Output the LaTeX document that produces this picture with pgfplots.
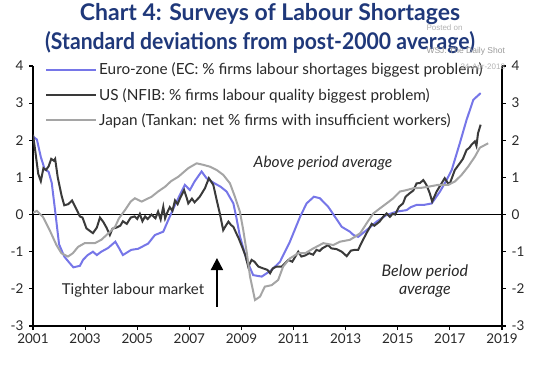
\documentclass[border=0pt]{standalone}
\usepackage{fontspec}
\setmainfont{Lato}
\newfontfamily\wm{Liberation Sans}
\usepackage{pgfplots}
\pgfplotsset{compat=1.18}
\usetikzlibrary{arrows.meta}
\definecolor{titleblue}{RGB}{31,56,122}
\definecolor{euro}{RGB}{118,118,232}
\definecolor{usc}{RGB}{58,58,58}
\definecolor{jpc}{RGB}{165,165,165}
\definecolor{txt}{RGB}{40,40,40}

\begin{document}
\begin{tikzpicture}[x=1pt,y=1pt]
\useasboundingbox (0,0) rectangle (539,365);
\node[anchor=base, inner sep=0pt, font=\bfseries\fontsize{23}{25}\selectfont, text=titleblue] at (270,344) {Chart 4: Surveys of Labour Shortages};
\node[anchor=base, inner sep=0pt, font=\bfseries\fontsize{23}{25}\selectfont, text=titleblue] at (260,315) {\scalebox{0.92}[1]{(Standard deviations from post-2000 average)}};
\begin{axis}[at={(33pt,39pt)}, anchor=south west, scale only axis,
  width=469pt, height=260pt,
  xmin=2001, xmax=2019, ymin=-3, ymax=4,
  axis x line*=bottom, axis y line*=left,
  axis line style={line width=1.6pt, -},
  xtick={2001,2003,2005,2007,2009,2011,2013,2015,2017,2019},
  xticklabels={2001,2003,2005,2007,2009,2011,2013,2015,2017,2019},
  ytick={-3,-2,-1,0,1,2,3,4},
  yticklabels={-3,-2,-1,0,1,2,3,4},
  tick align=outside, major tick length=4pt,
  tick style={line width=1.2pt, black},
  tick label style={font=\fontsize{13.5}{15}\selectfont, text=txt},
  yticklabel style={xshift=-2pt},
  legend image code/.code={\draw[#1] (0pt,0pt) -- (50pt,0pt);},
  legend style={at={(0.0256,1.02)}, anchor=north west, draw=none, fill=none,
    font=\fontsize{15.3}{17}\selectfont, text=txt, inner sep=0pt, row sep=8pt,
    cells={anchor=west}},
]
\addplot[black, line width=1.6pt, forget plot] coordinates {(2001,0)(2019,0)};
\addplot[euro, line width=2pt] coordinates {
(2001.0,2.10)(2001.15,2.02)(2001.3,1.55)(2001.45,1.22)(2001.6,1.15)(2001.72,0.85)(2001.85,0.10)(2002.0,-0.80)(2002.2,-1.13)(2002.4,-1.30)(2002.55,-1.42)(2002.8,-1.38)(2002.92,-1.22)(2003.1,-1.09)(2003.3,-1.00)(2003.45,-1.09)(2003.62,-1.00)(2003.88,-0.90)(2004.16,-0.73)(2004.3,-0.90)(2004.45,-1.09)(2004.77,-0.95)(2005.04,-0.92)(2005.42,-0.78)(2005.68,-0.55)(2006.0,-0.46)(2006.19,-0.15)(2006.45,0.26)(2006.7,0.62)(2006.83,0.80)(2007.02,0.66)(2007.2,0.89)(2007.47,1.16)(2007.66,0.98)(2007.92,0.86)(2008.2,0.75)(2008.43,0.62)(2008.69,0.30)(2008.8,-0.06)(2008.94,-0.58)(2009.2,-1.22)(2009.45,-1.63)(2009.78,-1.67)(2010.16,-1.49)(2010.48,-1.27)(2010.86,-0.73)(2011.25,-0.06)(2011.5,0.30)(2011.78,0.48)(2012.01,0.44)(2012.33,0.21)(2012.59,-0.06)(2012.85,-0.33)(2013.16,-0.46)(2013.3,-0.55)(2013.48,-0.60)(2013.8,-0.42)(2014.19,-0.19)(2014.57,-0.01)(2014.96,0.08)(2015.34,0.12)(2015.5,0.20)(2015.72,0.26)(2016.0,0.26)(2016.3,0.30)(2016.62,0.62)(2016.85,0.90)(2017.07,1.20)(2017.38,1.92)(2017.64,2.55)(2017.9,3.09)(2018.18,3.27)
};
\addlegendentry{Euro-zone (EC: \% firms labour shortages biggest problem)}
\addplot[usc, line width=2pt] coordinates {
(2001.0,2.15)(2001.08,1.75)(2001.2,1.10)(2001.3,0.90)(2001.4,1.25)(2001.5,1.20)(2001.6,1.30)(2001.7,1.50)(2001.8,1.45)(2001.85,1.50)(2001.95,1.00)(2002.1,0.50)(2002.2,0.25)(2002.35,0.28)(2002.5,0.38)(2002.65,0.17)(2002.8,-0.05)(2002.9,-0.08)(2003.05,-0.37)(2003.2,-0.45)(2003.3,-0.50)(2003.45,-0.35)(2003.57,-0.08)(2003.7,-0.20)(2003.82,-0.35)(2003.95,-0.55)(2004.05,-0.38)(2004.2,-0.35)(2004.35,-0.30)(2004.45,-0.18)(2004.6,-0.25)(2004.75,-0.08)(2004.9,-0.05)(2005.0,-0.12)(2005.1,0.02)(2005.2,-0.18)(2005.3,-0.05)(2005.4,-0.12)(2005.55,0.00)(2005.7,-0.10)(2005.8,0.08)(2005.9,-0.13)(2006.0,0.21)(2006.07,-0.10)(2006.15,0.05)(2006.25,0.20)(2006.35,0.10)(2006.45,0.38)(2006.55,0.28)(2006.65,0.45)(2006.8,0.66)(2006.9,0.45)(2006.96,0.30)(2007.1,0.43)(2007.2,0.33)(2007.4,0.48)(2007.6,0.71)(2007.75,0.98)(2007.92,0.80)(2008.05,0.39)(2008.18,0.00)(2008.3,-0.42)(2008.4,-0.30)(2008.5,-0.19)(2008.6,-0.28)(2008.69,-0.33)(2008.8,-0.50)(2008.9,-0.65)(2009.07,-0.95)(2009.15,-1.10)(2009.26,-1.40)(2009.39,-1.22)(2009.5,-1.27)(2009.65,-1.40)(2009.8,-1.44)(2010.0,-1.49)(2010.1,-1.58)(2010.2,-1.45)(2010.35,-1.40)(2010.55,-1.40)(2010.8,-1.22)(2010.95,-1.27)(2011.18,-1.00)(2011.3,-1.13)(2011.45,-1.10)(2011.6,-1.04)(2011.75,-1.08)(2011.88,-0.95)(2012.0,-0.98)(2012.1,-0.91)(2012.33,-0.82)(2012.45,-0.91)(2012.65,-0.93)(2012.85,-1.0)(2013.04,-1.12)(2013.2,-0.97)(2013.35,-0.95)(2013.48,-0.95)(2013.6,-0.77)(2013.8,-0.50)(2014.0,-0.25)(2014.1,-0.30)(2014.3,-0.19)(2014.45,-0.05)(2014.57,0.03)(2014.7,-0.06)(2014.8,0.02)(2014.9,0.0)(2015.05,0.21)(2015.2,0.30)(2015.3,0.48)(2015.45,0.57)(2015.6,0.65)(2015.72,0.84)(2015.85,0.85)(2015.98,0.93)(2016.1,0.80)(2016.23,0.57)(2016.32,0.35)(2016.49,0.62)(2016.68,0.84)(2016.8,0.98)(2016.92,0.85)(2017.0,0.84)(2017.19,1.20)(2017.38,1.38)(2017.5,1.50)(2017.64,1.74)(2017.75,1.80)(2017.83,1.88)(2017.96,1.97)(2018.02,1.85)(2018.08,2.19)(2018.18,2.42)
};
\addlegendentry{US (NFIB: \% firms labour quality biggest problem)}
\addplot[jpc, line width=2pt] coordinates {
(2001.0,0.05)(2001.15,0.10)(2001.38,-0.06)(2001.64,-0.42)(2001.9,-0.82)(2002.09,-1.04)(2002.34,-1.13)(2002.53,-1.04)(2002.73,-0.87)(2002.98,-0.77)(2003.37,-0.77)(2003.62,-0.68)(2003.9,-0.50)(2004.15,-0.33)(2004.3,-0.10)(2004.53,0.12)(2004.75,0.35)(2004.91,0.44)(2005.17,0.35)(2005.55,0.48)(2005.8,0.62)(2006.07,0.75)(2006.3,0.90)(2006.58,1.02)(2006.96,1.25)(2007.28,1.38)(2007.53,1.34)(2007.79,1.29)(2008.05,1.20)(2008.3,1.07)(2008.56,0.84)(2008.75,0.48)(2008.94,0.08)(2009.07,-0.42)(2009.2,-1.0)(2009.33,-1.67)(2009.52,-2.30)(2009.71,-2.21)(2009.9,-1.94)(2010.16,-1.90)(2010.41,-1.76)(2010.6,-1.40)(2010.86,-1.18)(2011.18,-1.04)(2011.45,-1.04)(2011.76,-0.91)(2012.14,-0.77)(2012.53,-0.82)(2012.78,-0.73)(2013.16,-0.68)(2013.35,-0.60)(2013.56,-0.50)(2013.8,-0.24)(2014.06,0.03)(2014.32,0.17)(2014.57,0.30)(2014.83,0.44)(2015.08,0.62)(2015.34,0.66)(2015.6,0.71)(2015.9,0.72)(2016.17,0.75)(2016.55,0.80)(2016.94,0.80)(2017.19,0.89)(2017.45,1.07)(2017.7,1.29)(2017.96,1.56)(2018.15,1.80)(2018.47,1.92)
};
\addlegendentry{Japan (Tankan: net \% firms with insufficient workers)}
\node[font=\itshape\fontsize{15.5}{17}\selectfont, text=txt] at (axis cs:2012.13,1.39) {Above period average};
\node[font=\fontsize{15}{17}\selectfont, text=txt] at (axis cs:2004.84,-2.03) {Tighter labour market};
\node[font=\itshape\fontsize{16}{18.5}\selectfont, text=txt, align=center] at (axis cs:2016.04,-1.79) {Below period\\average};
\draw[-{Triangle[length=12pt,width=12pt]}, line width=2pt, black] (axis cs:2008.06,-2.48) -- (axis cs:2008.06,-1.17);
\end{axis}
\begin{axis}[at={(33pt,39pt)}, anchor=south west, scale only axis,
  width=469pt, height=260pt,
  xmin=2001, xmax=2019, ymin=-3, ymax=4,
  axis x line=none, axis y line*=right,
  axis line style={line width=1.6pt, -},
  ytick={-3,-2,-1,0,1,2,3,4},
  yticklabels={-3,-2,-1,0,1,2,3,4},
  tick align=outside, major tick length=4pt,
  tick style={line width=1.2pt, black},
  tick label style={font=\fontsize{13.5}{15}\selectfont, text=txt},
  yticklabel style={xshift=2pt},
]
\addplot[draw=none, forget plot] coordinates {(2001,0)};
\end{axis}
\node[anchor=base west, font=\wm\fontsize{8}{9}\selectfont, text=black!30] at (423,334) {Posted on};
\node[anchor=base west, font=\wm\fontsize{8.5}{9}\selectfont, text=black!40] at (423,311) {WSJ: The Daily Shot};
\node[anchor=base west, font=\wm\fontsize{8}{9}\selectfont, text=black!30] at (457,295) {24-Apr-2018};
\end{tikzpicture}
\end{document}
